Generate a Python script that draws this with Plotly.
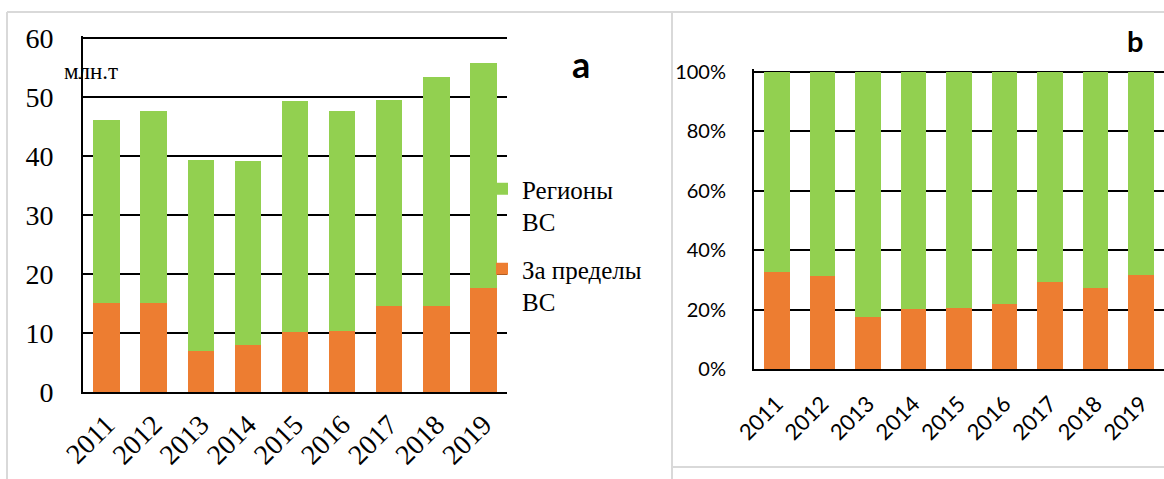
import plotly.graph_objects as go

years = ["2011", "2012", "2013", "2014", "2015", "2016", "2017", "2018", "2019"]
outside_vs = [15.0, 15.0, 6.9, 8.0, 10.2, 10.4, 14.5, 14.6, 17.7]      # За пределы ВС, млн.т
regions_vs = [31.1, 32.6, 32.4, 31.2, 39.1, 37.2, 35.0, 38.8, 38.1]   # Регионы ВС, млн.т

name_regions = "Регионы<br>ВС"
name_outside = "За пределы<br>ВС"
unit_label = "млн.т"
left_ticks = [0, 10, 20, 30, 40, 50, 60]
right_ticks = [0, 20, 40, 60, 80, 100]
right_ticktext = ["0%", "20%", "40%", "60%", "80%", "100%"]

GREEN = "#92D050"
ORANGE = "#ED7D31"
W, H = 1164, 479

totals = [a + b for a, b in zip(outside_vs, regions_vs)]
outside_pct = [100 * a / t for a, t in zip(outside_vs, totals)]
regions_pct = [100 * b / t for b, t in zip(regions_vs, totals)]

fig = go.Figure()
fig.add_trace(go.Bar(x=years, y=outside_vs, name=name_outside, marker_color=ORANGE,
                     marker_line_width=0, legendgroup="o", legendrank=2, xaxis="x", yaxis="y"))
fig.add_trace(go.Bar(x=years, y=regions_vs, name=name_regions, marker_color=GREEN,
                     marker_line_width=0, legendgroup="r", legendrank=1, xaxis="x", yaxis="y"))
fig.add_trace(go.Bar(x=years, y=outside_pct, marker_color=ORANGE, marker_line_width=0,
                     showlegend=False, xaxis="x2", yaxis="y2"))
fig.add_trace(go.Bar(x=years, y=regions_pct, marker_color=GREEN, marker_line_width=0,
                     showlegend=False, xaxis="x2", yaxis="y2"))

def px(x):
    return x / W

def py(y):
    return (H - y) / H

serif = "Liberation Serif"
sans = "Lato"

# small headroom so the top gridline (60 / 100%) is drawn
L_TOP_PAD = 0.4
R_TOP_PAD = 0.8
l_scale = (392 - 38) / 60.0
r_scale = (369.3 - 71.7) / 100.0

fig.update_layout(
    width=W, height=H,
    margin=dict(l=0, r=0, t=0, b=0, pad=0, autoexpand=False),
    paper_bgcolor="white", plot_bgcolor="white",
    barmode="stack", bargap=0.437,
    xaxis=dict(domain=[px(83), px(507)], anchor="y", showgrid=False, automargin=False,
               showline=True, linecolor="black", linewidth=2,
               tickangle=-45, ticks="", ticklabelstandoff=3,
               tickfont=dict(family=serif, size=28, color="black")),
    yaxis=dict(domain=[py(392), py(38 - L_TOP_PAD * l_scale)], anchor="x",
               range=[0, 60 + L_TOP_PAD], automargin=False,
               tickvals=left_ticks, showgrid=True, gridcolor="black", gridwidth=1.6,
               showline=True, linecolor="black", linewidth=2, zeroline=False,
               ticks="", ticklabelstandoff=22,
               tickfont=dict(family=serif, size=28, color="black")),
    xaxis2=dict(domain=[px(754), 1.0], anchor="y2", showgrid=False, automargin=False,
                showline=True, linecolor="black", linewidth=2,
                tickangle=-45, ticks="", ticklabelstandoff=11,
                tickfont=dict(family=sans, size=22, color="black")),
    yaxis2=dict(domain=[py(369.3), py(71.7 - R_TOP_PAD * r_scale)], anchor="x2",
                range=[0, 100 + R_TOP_PAD], automargin=False,
                tickvals=right_ticks, ticktext=right_ticktext,
                showgrid=True, gridcolor="black", gridwidth=1.6,
                showline=True, linecolor="black", linewidth=2, zeroline=False,
                ticks="", ticklabelstandoff=22,
                tickfont=dict(family=sans, size=20, color="black")),
    legend=dict(x=px(482), y=py(166), xanchor="left", yanchor="top",
                traceorder="grouped", tracegroupgap=12, valign="top",
                font=dict(family=serif, size=25, color="black"),
                bgcolor="rgba(0,0,0,0)"),
    annotations=[
        dict(text=unit_label, x=px(62), y=py(71), xref="paper", yref="paper",
             xanchor="left", yanchor="middle", showarrow=False,
             font=dict(family=serif, size=23, color="black")),
        dict(text="<b>a</b>", x=px(581), y=py(64), xref="paper", yref="paper",
             xanchor="center", yanchor="middle", showarrow=False,
             font=dict(family=sans, size=36, color="black")),
        dict(text="<b>b</b>", x=px(1135), y=py(40), xref="paper", yref="paper",
             xanchor="center", yanchor="middle", showarrow=False,
             font=dict(family=sans, size=29, color="black")),
    ],
    shapes=[
        dict(type="line", xref="paper", yref="paper", x0=px(7), x1=1.0, y0=py(12), y1=py(12),
             line=dict(color="#d9d9d9", width=2)),
        dict(type="line", xref="paper", yref="paper", x0=px(7), x1=px(7), y0=py(12), y1=0,
             line=dict(color="#d9d9d9", width=2)),
        dict(type="line", xref="paper", yref="paper", x0=px(672), x1=px(672), y0=py(12), y1=0,
             line=dict(color="#d9d9d9", width=2)),
        dict(type="line", xref="paper", yref="paper", x0=px(672), x1=1.0, y0=py(467), y1=py(467),
             line=dict(color="#d9d9d9", width=2)),
    ],
)

fig.write_html("out.html", config={"displayModeBar": False},
               post_script="document.body.style.margin='0px';document.body.style.overflow='hidden';")
